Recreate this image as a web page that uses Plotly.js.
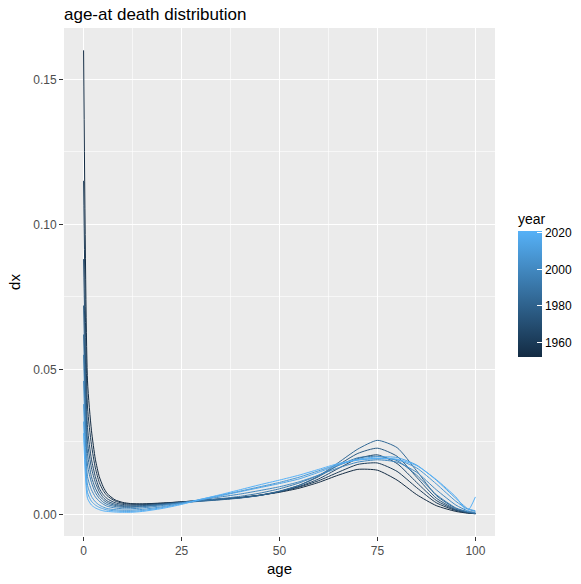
<!DOCTYPE html>
<html>
<head>
<meta charset="utf-8">
<script src="https://cdn.plot.ly/plotly-3.0.1.min.js"></script>
<style>html,body{margin:0;padding:0;background:#fff;}#chart{width:581px;height:584px;}</style>
</head>
<body>
<div id="chart"></div>
<script>
// ages (x values shared by all years)
const ages = [0,1,2,3,4,5,6,8,10,12,15,20,25,30,35,40,45,50,55,60,65,70,75,80,85,90,95,98,100];
const years = [1952,1960,1968,1976,1984,1992,2000,2008,2015,2021];
const dx1952 = [0.160,0.046,0.029,0.019,0.013,0.0095,0.0072,0.0050,0.0041,0.0037,0.0036,0.0039,0.0043,0.0048,0.0053,0.0058,0.0066,0.0076,0.0090,0.0110,0.0135,0.0155,0.0152,0.0118,0.0068,0.0030,0.0010,0.0004,0.0002];
const dx1960 = [0.115,0.037,0.024,0.016,0.011,0.0082,0.0064,0.0046,0.0038,0.0035,0.0035,0.0038,0.0043,0.0048,0.0053,0.0058,0.0066,0.0078,0.0094,0.0116,0.0145,0.0172,0.0177,0.0148,0.0092,0.0040,0.0013,0.0005,0.0002];
const dx1968 = [0.088,0.030,0.019,0.013,0.009,0.0068,0.0054,0.0040,0.0034,0.0032,0.0033,0.0037,0.0042,0.0047,0.0052,0.0057,0.0065,0.0078,0.0096,0.0122,0.0158,0.0192,0.0205,0.0175,0.0110,0.0048,0.0015,0.0006,0.0003];
const dx1976 = [0.072,0.025,0.016,0.011,0.0078,0.0058,0.0046,0.0035,0.0030,0.0029,0.0030,0.0035,0.0041,0.0046,0.0051,0.0057,0.0066,0.0080,0.0100,0.0130,0.0170,0.0210,0.0228,0.0200,0.0128,0.0056,0.0017,0.0007,0.0003];
const dx1984 = [0.062,0.021,0.013,0.0090,0.0065,0.0050,0.0040,0.0031,0.0027,0.0026,0.0028,0.0034,0.0040,0.0045,0.0050,0.0056,0.0065,0.0079,0.0100,0.0132,0.0178,0.0225,0.0255,0.0230,0.0150,0.0065,0.0020,0.0008,0.0003];
const dx1992 = [0.055,0.017,0.011,0.0075,0.0055,0.0042,0.0034,0.0027,0.0024,0.0024,0.0026,0.0033,0.0040,0.0047,0.0054,0.0062,0.0073,0.0088,0.0108,0.0135,0.0168,0.0195,0.0200,0.0185,0.0135,0.0068,0.0022,0.0009,0.0004];
const dx2000 = [0.046,0.013,0.0085,0.006,0.0045,0.0035,0.0028,0.0022,0.0019,0.0019,0.0022,0.0030,0.0040,0.0050,0.0060,0.0070,0.0082,0.0095,0.0112,0.0135,0.0160,0.0180,0.0188,0.0180,0.0145,0.0085,0.0032,0.0012,0.0006];
const dx2008 = [0.038,0.010,0.0062,0.0043,0.0032,0.0025,0.0020,0.0016,0.0014,0.0014,0.0017,0.0026,0.0038,0.0052,0.0066,0.0080,0.0095,0.0110,0.0128,0.0150,0.0172,0.0187,0.0192,0.0188,0.0160,0.0105,0.0045,0.0018,0.0010];
const dx2015 = [0.032,0.0075,0.0045,0.0032,0.0024,0.0019,0.0015,0.0012,0.0010,0.0010,0.0013,0.0023,0.0036,0.0050,0.0064,0.0078,0.0092,0.0106,0.0122,0.0145,0.0170,0.0190,0.0198,0.0196,0.0170,0.0118,0.0055,0.0020,0.0012];
const dx2021 = [0.028,0.0055,0.0032,0.0022,0.0016,0.0012,0.0010,0.0008,0.0007,0.0007,0.0010,0.0020,0.0034,0.0052,0.0068,0.0085,0.0102,0.0118,0.0135,0.0155,0.0175,0.0188,0.0193,0.0190,0.0168,0.0120,0.0060,0.0012,0.0060];
const series = [dx1952,dx1960,dx1968,dx1976,dx1984,dx1992,dx2000,dx2008,dx2015,dx2021];
const xTicks = [0,25,50,75,100];
const yTicks = [0,0.05,0.10,0.15];
const yTickText = ["0.00","0.05","0.10","0.15"];
const barTicks = [1960,1980,2000,2020];

const lo = [0x13,0x2B,0x43], hi = [0x56,0xB1,0xF7];
const yMin = Math.min(...years), yMax = Math.max(...years);
function col(y){
  const t = (y - yMin)/(yMax - yMin);
  const c = lo.map((v,i)=>Math.round(v + (hi[i]-v)*t));
  return 'rgb(' + c.join(',') + ')';
}

const traces = series.map((s,i)=>({
  type:'scatter', mode:'lines', x: ages, y: s,
  line:{color: col(years[i]), width:1, shape:'spline', smoothing:0.6},
  showlegend:false, hoverinfo:'skip'
}));

traces.push({
  type:'scatter', mode:'markers', x:[null], y:[null], showlegend:false, hoverinfo:'skip',
  marker:{
    color: years, cmin: yMin, cmax: yMax, size:0,
    colorscale: [[0,'#132B43'],[1,'#56B1F7']],
    showscale:true,
    colorbar:{
      x:1.0534, xanchor:'left', y:0.497, yanchor:'middle',
      thickness:24, thicknessmode:'pixels', len:147, lenmode:'pixels',
      outlinewidth:0, xpad:0, ypad:0,
      tickvals: barTicks, ticktext: barTicks.map(String),
      ticks:'inside', ticklen:5, tickcolor:'white', tickwidth:1,
      tickfont:{family:'Liberation Sans, Arial, sans-serif', size:12, color:'#000'},
      title:{text:'year', side:'top', font:{family:'Liberation Sans, Arial, sans-serif', size:14, color:'#000'}}
    }
  }
});

const font = {family:'Liberation Sans, Arial, sans-serif'};
const layout = {
  width:581, height:584,
  margin:{l:64, r:86, t:28, b:48, autoexpand:false},
  paper_bgcolor:'#fff', plot_bgcolor:'#EBEBEB',
  font: font,
  title:{text:'age-at death distribution', x:0, xref:'paper', xanchor:'left', y:0.976, yanchor:'middle',
    font:{family:'Liberation Sans, Arial, sans-serif', size:17, color:'#000'}},
  xaxis:{
    range:[-5,105], tickvals:xTicks, ticktext:xTicks.map(String),
    showgrid:true, gridcolor:'#fff', gridwidth:1.3, zeroline:false, showline:false,
    ticks:'outside', ticklen:4, tickcolor:'#333', tickwidth:1,
    tickfont:{family:'Liberation Sans, Arial, sans-serif', size:12, color:'#4D4D4D'},
    minor:{tickvals:[12.5,37.5,62.5,87.5], showgrid:true, gridcolor:'#fff', gridwidth:0.6, ticks:''},
    title:{text:'age', standoff:6, font:{family:'Liberation Sans, Arial, sans-serif', size:15, color:'#000'}}
  },
  yaxis:{
    range:[-0.00748,0.1677], tickvals:yTicks, ticktext:yTickText,
    showgrid:true, gridcolor:'#fff', gridwidth:1.3, zeroline:false, showline:false,
    ticks:'outside', ticklen:4, tickcolor:'#333', tickwidth:1,
    tickfont:{family:'Liberation Sans, Arial, sans-serif', size:12, color:'#4D4D4D'},
    minor:{tickvals:[0.025,0.075,0.125], showgrid:true, gridcolor:'#fff', gridwidth:0.6, ticks:''},
    title:{text:'dx', standoff:8, font:{family:'Liberation Sans, Arial, sans-serif', size:15, color:'#000'}}
  }
};
Plotly.newPlot('chart', traces, layout, {displayModeBar:false, staticPlot:true});
</script>
</body>
</html>
